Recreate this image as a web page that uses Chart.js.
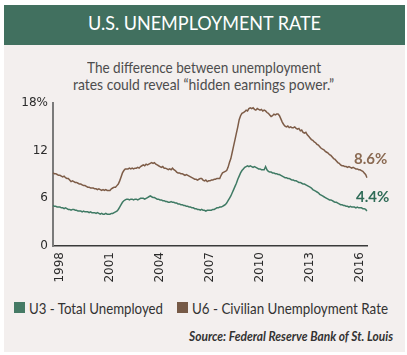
<!DOCTYPE html>
<html><head><meta charset="utf-8">
<script src="https://cdn.jsdelivr.net/npm/chart.js@4"></script>
<style>
html,body{margin:0;padding:0;background:#fff;width:407px;height:355px;overflow:hidden;font-family:Lato,sans-serif;}
#panel{position:absolute;left:4px;top:5px;width:401px;height:347px;background:#f3efee;}
#head{position:absolute;left:4px;top:5px;width:401px;height:40px;background:#41705f;}
.t{position:absolute;white-space:nowrap;line-height:1.2;transform-origin:0 0;}
#wrap{position:absolute;left:0;top:90px;width:407px;height:200px;}
.sq{position:absolute;width:11px;height:11px;top:302px;}
</style></head><body>
<div id="panel"></div><div id="head"></div>
<span class="t" data-x="88" data-w="233" style="top:10.3px;font-size:20px;color:#fff;">U.S. UNEMPLOYMENT RATE</span>
<span class="t" data-x="87" data-w="234" style="top:57.9px;font-size:15px;color:#4d4d4d;">The difference between unemployment</span>
<span class="t" data-x="73" data-w="261" style="top:75.2px;font-size:15px;color:#4d4d4d;">rates could reveal “hidden earnings power.”</span>
<div id="wrap"><canvas id="c"></canvas></div>
<div class="sq" style="left:14px;background:#457a65;"></div>
<span class="t" data-x="29" data-w="134" style="top:297.5px;font-size:16px;color:#333;">U3 - Total Unemployed</span>
<div class="sq" style="left:177px;background:#765a47;"></div>
<span class="t" data-x="192" data-w="196" style="top:297.5px;font-size:16px;color:#333;">U6 - Civilian Unemployment Rate</span>
<span class="t" data-x="189" data-w="204" style="top:329.4px;font-size:12.5px;font-style:italic;font-weight:bold;color:#333;">Source: Federal Reserve Bank of St. Louis</span>
<script>
// Monthly data, Aug 1997 .. Jun 2016
const startYear = 1997, startMonth = 8;
const yearTicks = ['1998','2001','2004','2007','2010','2013','2016'];
const yTicks = [0, 6, 12, 18];
const u3 = [
  5.1, 5.0, 5.0, 4.9, 4.9,                                   // 1997
  4.9, 4.8, 4.8, 4.7, 4.8, 4.7, 4.6, 4.6, 4.5, 4.6, 4.6, 4.5, // 1998
  4.5, 4.4, 4.4, 4.4, 4.3, 4.4, 4.3, 4.3, 4.3, 4.2, 4.3, 4.2, // 1999
  4.2, 4.2, 4.1, 4.2, 4.1, 4.0, 4.1, 4.0, 4.0, 4.1, 4.0, 4.0, // 2000
  4.0, 4.1, 4.1, 4.2, 4.3, 4.4, 4.6, 4.9, 5.2, 5.5, 5.7, 5.8, // 2001
  5.9, 5.9, 5.8, 5.9, 5.9, 5.8, 5.9, 5.9, 5.8, 5.9, 6.0, 6.0, // 2002
  6.0, 5.9, 6.0, 6.1, 6.2, 6.3, 6.2, 6.1, 6.1, 6.0, 5.9, 5.9, // 2003
  5.8, 5.8, 5.7, 5.7, 5.6, 5.6, 5.5, 5.5, 5.6, 5.5, 5.5, 5.4, // 2004
  5.4, 5.3, 5.3, 5.2, 5.2, 5.1, 5.1, 5.0, 5.0, 4.9, 4.9, 4.8, // 2005
  4.8, 4.7, 4.7, 4.6, 4.6, 4.5, 4.6, 4.5, 4.5, 4.4, 4.5, 4.5, // 2006
  4.5, 4.5, 4.6, 4.6, 4.7, 4.8, 4.8, 4.9, 4.9, 5.0, 5.1, 5.2, // 2007
  5.4, 5.7, 6.0, 6.3, 6.7, 7.1, 7.5, 7.9, 8.4, 8.8, 9.2, 9.5, // 2008
  9.7, 9.9, 10.0, 10.1, 10.0, 10.1, 10.0, 9.9, 10.0, 9.9, 9.8, 9.7, // 2009
  9.7, 9.6, 9.6, 9.6, 10.0, 9.6, 9.4, 9.3, 9.3, 9.2, 9.2, 9.1, // 2010
  9.1, 9.0, 9.0, 8.9, 8.8, 8.7, 8.6, 8.6, 8.5, 8.5, 8.4, 8.3, // 2011
  8.3, 8.2, 8.2, 8.1, 8.0, 8.0, 7.9, 7.8, 7.8, 7.7, 7.6, 7.5, // 2012
  7.4, 7.3, 7.1, 7.0, 6.9, 6.8, 6.7, 6.5, 6.4, 6.3, 6.2, 6.1, // 2013
  6.0, 5.9, 5.8, 5.8, 5.7, 5.6, 5.5, 5.5, 5.4, 5.3, 5.2, 5.2, // 2014
  5.1, 5.1, 5.0, 5.0, 4.9, 5.0, 4.9, 4.9, 4.9, 4.8, 4.9, 4.8, // 2015
  4.8, 4.8, 4.7, 4.7, 4.6, 4.4                                // 2016
];
const u6 = [
  9.2, 9.1, 9.1, 9.0, 8.9,                                   // 1997
  8.9, 8.8, 8.7, 8.8, 8.6, 8.5, 8.5, 8.3, 8.1, 8.2, 8.1, 8.0, // 1998
  8.0, 7.9, 7.8, 7.8, 7.7, 7.6, 7.6, 7.5, 7.4, 7.4, 7.3, 7.3, // 1999
  7.3, 7.2, 7.2, 7.1, 7.2, 7.1, 7.0, 7.1, 7.0, 7.1, 7.0, 7.0, // 2000
  7.0, 7.2, 7.3, 7.4, 7.4, 7.6, 7.8, 8.2, 8.7, 9.2, 9.5, 9.7, // 2001
  9.7, 9.7, 9.8, 9.7, 9.8, 9.7, 9.8, 9.8, 9.9, 9.8, 10.0, 10.1, // 2002
  10.2, 10.1, 10.3, 10.2, 10.3, 10.4, 10.5, 10.4, 10.5, 10.3, 10.2, 10.1, // 2003
  10.0, 9.9, 10.0, 9.8, 9.8, 9.7, 9.6, 9.7, 9.6, 9.8, 9.6, 9.5, // 2004
  9.3, 9.2, 9.2, 9.1, 9.1, 9.0, 8.9, 9.0, 8.9, 8.8, 8.7, 8.6, // 2005
  8.5, 8.4, 8.4, 8.3, 8.4, 8.5, 8.5, 8.3, 8.2, 8.3, 8.1, 8.2, // 2006
  8.2, 8.3, 8.3, 8.4, 8.4, 8.5, 8.5, 8.5, 8.9, 9.2, 9.3, 9.4, // 2007
  9.5, 9.9, 10.5, 11.0, 11.8, 12.6, 13.4, 14.2, 15.0, 15.9, 16.4, 16.7, // 2008
  16.8, 16.9, 17.1, 17.0, 17.3, 17.4, 17.3, 17.4, 17.2, 17.1, 17.3, 17.2, // 2009
  17.1, 17.2, 17.0, 17.1, 17.0, 16.8, 16.7, 16.5, 16.3, 16.4, 16.6, 16.5, // 2010
  16.6, 16.6, 16.4, 16.0, 15.6, 15.3, 15.1, 15.0, 15.1, 14.9, 15.0, 14.9, // 2011
  14.9, 15.0, 14.8, 14.7, 14.8, 14.5, 14.6, 14.3, 14.2, 14.3, 14.0, 13.8, // 2012
  13.6, 13.4, 13.3, 13.1, 13.0, 12.8, 12.7, 12.5, 12.3, 12.2, 12.1, 11.9, // 2013
  11.8, 11.7, 11.5, 11.4, 11.2, 11.0, 10.9, 10.7, 10.5, 10.4, 10.2, 10.1, // 2014
  10.1, 10.0, 10.0, 9.9, 10.0, 9.9, 9.8, 9.9, 9.8, 9.7, 9.7, 9.6, // 2015
  9.6, 9.5, 9.4, 9.2, 9.0, 8.6                                // 2016
];
const months = [];
for (let i = 0; i < u3.length; i++) {
  const m0 = startMonth - 1 + i;
  const y = startYear + Math.floor(m0 / 12), m = (m0 % 12) + 1;
  months.push(y + '-' + String(m).padStart(2, '0'));
}

// fit HTML texts
document.querySelectorAll('.t').forEach(el => {
  el.style.left = el.dataset.x + 'px';
  const w = el.getBoundingClientRect().width;
  el.style.transform = 'scaleX(' + (parseFloat(el.dataset.w) / w) + ')';
});

const endLabels = {
  id: 'endLabels',
  afterDatasetsDraw(chart) {
    const ctx = chart.ctx;
    chart.data.datasets.forEach((ds, i) => {
      const meta = chart.getDatasetMeta(i);
      const p = meta.data[meta.data.length - 1];
      const v = ds.data[ds.data.length - 1];
      ctx.save();
      ctx.font = 'bold 15px Lato';
      ctx.fillStyle = ds.labelColor;
      ctx.textAlign = 'left';
      ctx.textBaseline = 'alphabetic';
      ctx.fillText(v.toFixed(1) + '%', p.x + ds.dx, p.y + ds.dy);
      ctx.restore();
    });
  }
};

new Chart(document.getElementById('c'), {
  type: 'line',
  data: {
    labels: months,
    datasets: [
      { label: 'U3 - Total Unemployed', data: u3, borderColor: '#3f7a64', borderWidth: 1.5,
        pointRadius: 0, tension: 0, labelColor: '#2f6b57', dx: -11, dy: -9.5 },
      { label: 'U6 - Civilian Unemployment Rate', data: u6, borderColor: '#7d5c47', borderWidth: 1.5,
        pointRadius: 0, tension: 0, labelColor: '#8a6a52', dx: -13, dy: -13.5 }
    ]
  },
  options: {
    responsive: true, maintainAspectRatio: false, animation: false,
    layout: { padding: { left: 0, right: 40, top: 13, bottom: 4 } },
    plugins: { legend: { display: false }, tooltip: { enabled: false } },
    scales: {
      x: {
        grid: { display: false, drawTicks: false },
        border: { display: true, color: '#3a3a3a', width: 1.5 },
        afterFit(s) { s.height = 40; },
        ticks: {
          autoSkip: false, maxRotation: 90, minRotation: 90, padding: 6,
          color: '#2b2b2b', font: { family: 'DejaVu Sans', size: 12 },
          callback(v, i) {
            const lab = months[i];
            const yr = lab.slice(0, 4);
            return (lab.endsWith('-01') && yearTicks.includes(yr)) ? yr : null;
          }
        }
      },
      y: {
        min: 0, max: 18,
        grid: { display: false, drawTicks: false },
        border: { display: true, color: '#7a7a7a', width: 2 },
        afterFit(s) { s.width = 53; },
        afterBuildTicks(s) { s.ticks = yTicks.map(v => ({ value: v })); },
        ticks: {
          padding: 5, color: '#2b2b2b', font: { family: 'DejaVu Sans', size: 12 },
          callback(v) { return v === 18 ? '18%' : String(v); }
        }
      }
    }
  },
  plugins: [endLabels]
});
</script>
</body></html>
